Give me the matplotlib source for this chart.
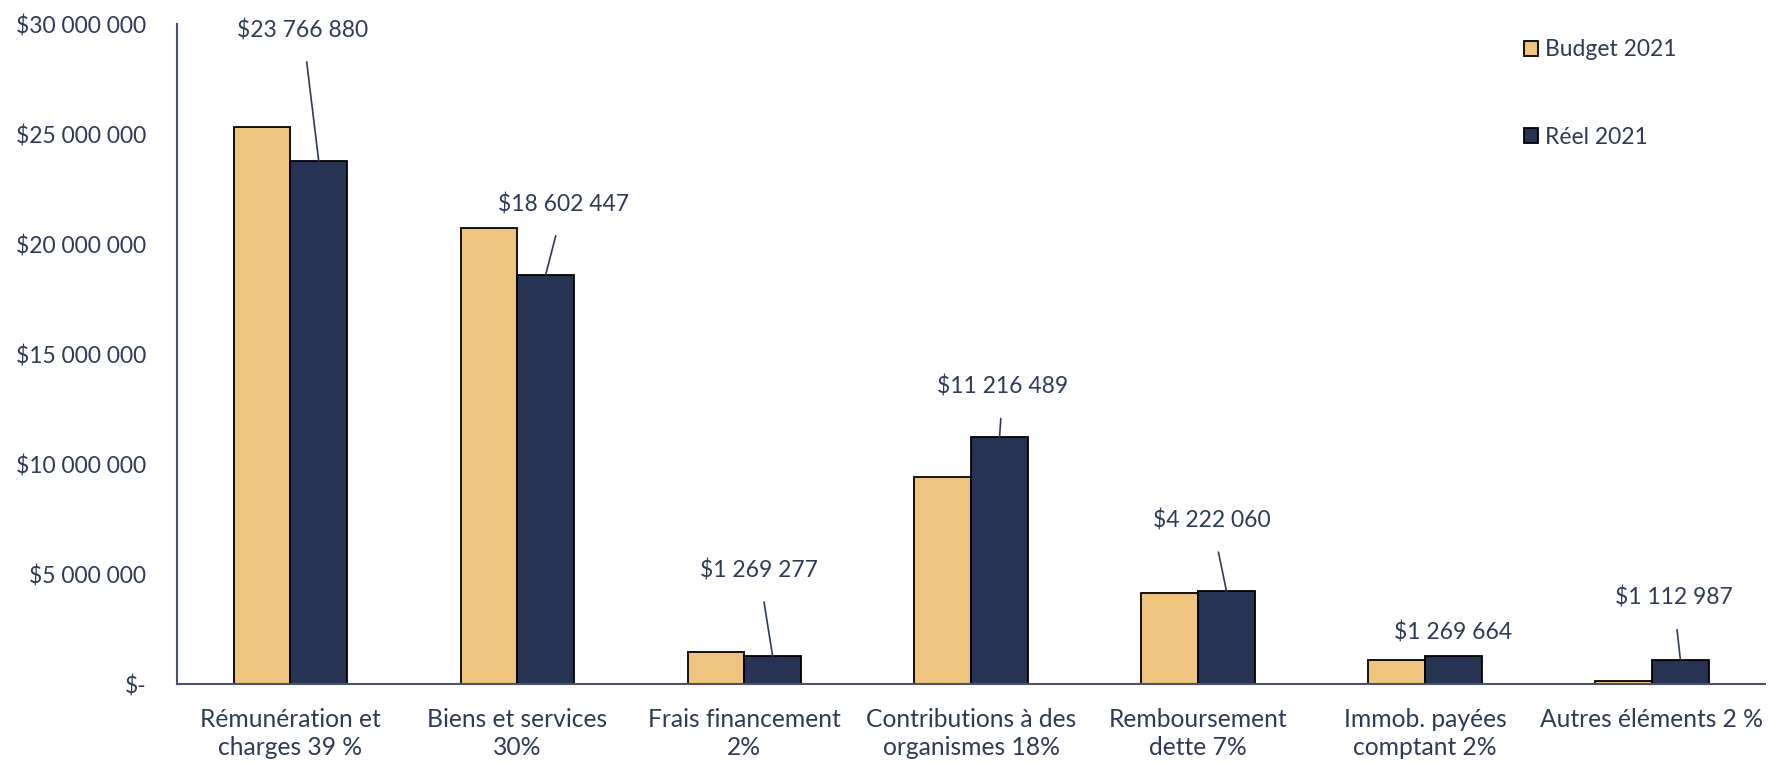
import matplotlib
matplotlib.use("Agg")
import matplotlib.pyplot as plt
import numpy as np
from matplotlib.patches import Patch

categories = ["Rémunération et\ncharges 39 %", "Biens et services\n30%", "Frais financement\n2%",
              "Contributions à des\norganismes 18%", "Remboursement\ndette 7%",
              "Immob. payées\ncomptant 2%", "Autres éléments 2 %"]
budget_2021 = [25320000, 20730000, 1450000, 9400000, 4130000, 1090000, 120000]
reel_2021 = [23766880, 18602447, 1269277, 11216489, 4222060, 1269664, 1112987]
series_names = ["Budget 2021", "Réel 2021"]
yticks = [0, 5000000, 10000000, 15000000, 20000000, 25000000, 30000000]

# label positions (offset in category units, value units) for the Réel labels
label_offsets = [(-0.07, 5950000), (0.08, 3200000), (-0.06, 3900000),
                 (0.015, 2300000), (-0.064, 3200000), (0.0, 1050000), (-0.03, 2800000)]
draw_leader = [True, True, True, True, True, False, True]

TXT = "#2E3A57"
C_B = "#EEC47E"
C_R = "#263352"
FS = 16.5
plt.rcParams['font.family'] = ['Lato', 'DejaVu Sans']

fig = plt.figure(figsize=(17.69, 7.63), dpi=100)
ax = fig.add_axes([0.1, 0.1035, 0.898, 0.865])

x = np.arange(len(categories))
w = 0.25
ax.bar(x - w/2, budget_2021, w, color=C_B, edgecolor="black", linewidth=1.3, label=series_names[0])
ax.bar(x + w/2, reel_2021, w, color=C_R, edgecolor="black", linewidth=1.3, label=series_names[1])

ax.set_xlim(-0.5, len(categories) - 0.5)
ax.set_ylim(0, 30000000)
ax.set_yticks(yticks)

def fmt(v):
    if v == 0:
        return "$-"
    return "$" + f"{int(v):,}".replace(",", " ")

ax.set_yticklabels([fmt(v) for v in yticks])
ax.set_xticks(x)
ax.set_xticklabels(categories, fontsize=17.7, linespacing=1.3)
ax.tick_params(axis='y', length=0, labelsize=FS, colors=TXT, pad=22)
ax.tick_params(axis='x', length=0, colors=TXT, pad=17)

for s in ["top", "right"]:
    ax.spines[s].set_visible(False)
for s in ["left", "bottom"]:
    ax.spines[s].set_color("#4A5270")
    ax.spines[s].set_linewidth(1.5)

for i, v in enumerate(reel_2021):
    dx, dy = label_offsets[i]
    bx = x[i] + w/2
    if draw_leader[i]:
        ax.annotate(fmt(v), xy=(bx, v), xytext=(bx + dx, v + dy),
                    ha="center", va="center", fontsize=FS, color=TXT,
                    arrowprops=dict(arrowstyle="-", color=TXT, lw=1.2,
                                    shrinkA=13, shrinkB=0))
    else:
        ax.text(bx + dx, v + dy, fmt(v), ha="center", va="center", fontsize=FS, color=TXT)

handles = [Patch(facecolor=C_B, edgecolor="black", linewidth=1.3),
           Patch(facecolor=C_R, edgecolor="black", linewidth=1.3)]
leg = ax.legend(handles, series_names, loc="upper left", bbox_to_anchor=(0.835, 1.008),
                frameon=False, fontsize=FS, handlelength=0.6, handleheight=0.6,
                handletextpad=0.3, labelspacing=2.9)
for t in leg.get_texts():
    t.set_color(TXT)

fig.savefig("out.png", dpi=100, facecolor="white")
